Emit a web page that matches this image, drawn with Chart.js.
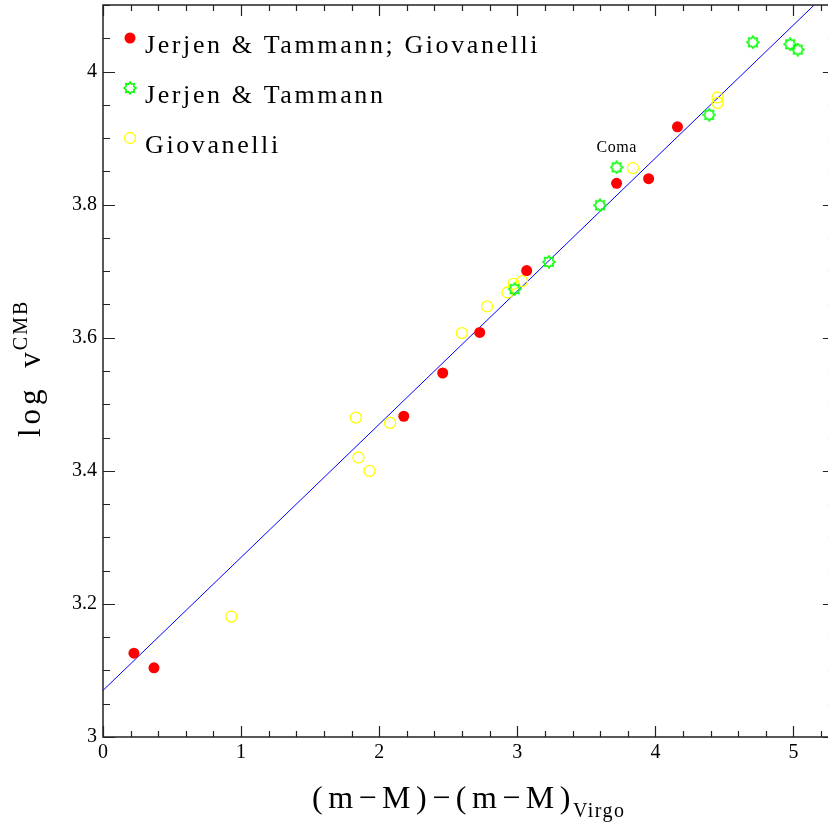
<!DOCTYPE html>
<html>
<head>
<meta charset="utf-8">
<script src="https://cdn.jsdelivr.net/npm/chart.js@4"></script>
<style>
  html, body { margin: 0; padding: 0; background: #fff; overflow: hidden; }
  canvas { display: block; }
</style>
</head>
<body>
<canvas id="c" width="828" height="824"></canvas>
<script>
// ---- data ----
const bothX   = [0.224, 0.369, 2.178, 2.460, 2.728, 3.068, 3.719, 3.951, 4.160];
const bothY   = [3.126, 3.104, 3.482, 3.547, 3.608, 3.701, 3.832, 3.839, 3.917];
const jtX     = [2.981, 3.229, 3.599, 3.719, 4.390, 4.706, 4.976, 5.031];
const jtY     = [3.673, 3.714, 3.799, 3.856, 3.935, 4.044, 4.041, 4.033];
const giovX   = [0.929, 1.831, 1.850, 1.930, 2.079, 2.598, 2.781, 2.929, 2.974, 3.034, 3.837, 4.450, 4.450];
const giovY   = [3.181, 3.480, 3.420, 3.400, 3.472, 3.607, 3.647, 3.668, 3.681, 3.685, 3.855, 3.961, 3.953];
const fitIntercept = 3.07;
const fitSlope     = 0.2;
const seriesNames  = ['Jerjen & Tammann; Giovanelli', 'Jerjen & Tammann', 'Giovanelli'];
const xRange = [0, 5.25];     // visible part of the x axis
const xFrameEdge = 5.3;       // right frame (just outside the picture)
const yRange = [3, 4.1];
const annotation = { text: 'Coma', x: 3.72, y: 3.886 };

const pts = (xs, ys) => xs.map((x, i) => ({ x, y: ys[i] }));

// star marker (green spiky outline)
function makeStar(size) {
  const cv = document.createElement('canvas');
  cv.width = size; cv.height = size;
  const g = cv.getContext('2d');
  const c = size / 2, ro = size / 2 - 1, ri = ro * 0.68, n = 8;
  g.beginPath();
  for (let k = 0; k < 2 * n; k++) {
    const r = k % 2 === 0 ? ro : ri;
    const a = -Math.PI / 2 + k * Math.PI / n;
    const px = c + r * Math.cos(a), py = c + r * Math.sin(a);
    if (k === 0) g.moveTo(px, py); else g.lineTo(px, py);
  }
  g.closePath();
  g.strokeStyle = '#00ff00';
  g.lineWidth = 1.5;
  g.stroke();
  return cv;
}
const starImg = makeStar(14);

const SERIF = '"Liberation Serif", "DejaVu Serif", serif';

const decor = {
  id: 'decor',
  afterDraw(chart) {
    const ctx = chart.ctx, a = chart.chartArea;
    const xs = chart.scales.x, ys = chart.scales.y;
    const right = xs.getPixelForValue(xFrameEdge);
    ctx.save();
    // frame
    ctx.strokeStyle = '#222';
    ctx.lineWidth = 1.5;
    ctx.strokeRect(a.left, a.top, right - a.left, a.bottom - a.top);
    // ticks
    ctx.lineWidth = 1.2;
    ctx.beginPath();
    for (let i = 0; i * 0.2 <= xFrameEdge + 1e-9; i++) {
      const v = i * 0.2, p = Math.round(xs.getPixelForValue(v)) + 0.5;
      const L = (i % 5 === 0) ? 11 : 6;
      ctx.moveTo(p, a.bottom); ctx.lineTo(p, a.bottom - L);
      ctx.moveTo(p, a.top); ctx.lineTo(p, a.top + L);
    }
    for (let i = 0; 3 + i * 0.05 <= yRange[1] + 1e-9; i++) {
      const v = 3 + i * 0.05, p = Math.round(ys.getPixelForValue(v)) + 0.5;
      const L = (i % 4 === 0) ? 12 : 7;
      ctx.moveTo(a.left, p); ctx.lineTo(a.left + L, p);
      ctx.moveTo(right, p); ctx.lineTo(right - L, p);
    }
    ctx.stroke();

    // legend
    ctx.textBaseline = 'alphabetic';
    ctx.textAlign = 'left';
    const lx = 130, tx = 145, rows = [38, 88, 138];
    ctx.beginPath(); ctx.arc(lx, rows[0], 5.5, 0, Math.PI * 2);
    ctx.fillStyle = '#ff0000'; ctx.fill();
    ctx.drawImage(starImg, lx - 7, rows[1] - 7);
    ctx.beginPath(); ctx.arc(lx, rows[2], 5.5, 0, Math.PI * 2);
    ctx.strokeStyle = '#ffff00'; ctx.lineWidth = 1.3; ctx.stroke();
    ctx.fillStyle = '#000';
    ctx.font = '26px ' + SERIF;
    ctx.letterSpacing = '2.6px';
    seriesNames.forEach((s, i) => ctx.fillText(s, tx, rows[i] + 15));

    // annotation
    ctx.letterSpacing = '0.5px';
    ctx.font = '16px ' + SERIF;
    ctx.textAlign = 'center';
    ctx.fillText(annotation.text, xs.getPixelForValue(annotation.x), ys.getPixelForValue(annotation.y) + 5);

    // x title
    ctx.textAlign = 'left';
    ctx.font = '32px ' + SERIF;
    ctx.letterSpacing = '5.5px';
    const main = '(m\u2212M)\u2212(m\u2212M)';
    const x0 = 312, by = 808;
    ctx.fillText(main, x0, by);
    const w = ctx.measureText(main).width;
    ctx.font = '20px ' + SERIF;
    ctx.letterSpacing = '1.5px';
    ctx.fillText('Virgo', x0 + w - 3, by + 9);

    // y title (rotated)
    ctx.save();
    ctx.translate(40, 437);
    ctx.rotate(-Math.PI / 2);
    ctx.font = '31px ' + SERIF;
    ctx.letterSpacing = '4px';
    ctx.fillText('log', 0, 0);
    const wl = ctx.measureText('log ').width;
    ctx.fillText('v', wl + 6, 0);
    const w1 = wl + 6 + ctx.measureText('v').width;
    ctx.font = '20px ' + SERIF;
    ctx.letterSpacing = '2px';
    ctx.fillText('CMB', w1 - 2, -13);
    ctx.restore();

    ctx.restore();
  }
};

new Chart(document.getElementById('c'), {
  type: 'scatter',
  data: {
    datasets: [
      { label: seriesNames[0], data: pts(bothX, bothY), pointStyle: 'circle', pointRadius: 5.5,
        backgroundColor: '#ff0000', borderColor: '#ff0000', borderWidth: 0, order: 1 },
      { label: seriesNames[1], data: pts(jtX, jtY), pointStyle: starImg, pointRadius: 7,
        backgroundColor: '#00ff00', borderColor: '#00ff00', order: 2 },
      { label: seriesNames[2], data: pts(giovX, giovY), pointStyle: 'circle', pointRadius: 5.5,
        backgroundColor: 'rgba(0,0,0,0)', borderColor: '#ffff00', borderWidth: 1.3, order: 3 },
      { label: 'fit', type: 'line', showLine: true, pointRadius: 0, borderColor: '#0000ff', borderWidth: 1,
        data: [{ x: xRange[0], y: fitIntercept + fitSlope * xRange[0] },
               { x: xRange[1], y: fitIntercept + fitSlope * xRange[1] }], order: 4 }
    ]
  },
  options: {
    responsive: false,
    animation: false,
    events: [],
    layout: { autoPadding: false, padding: { top: 5, right: 0, left: 0, bottom: 0 } },
    plugins: { legend: { display: false }, tooltip: { enabled: false } },
    scales: {
      x: {
        type: 'linear', min: xRange[0], max: xRange[1],
        grid: { display: false, drawTicks: false, tickLength: 0 }, border: { display: false },
        afterFit: s => { s.height = 87; s.paddingLeft = 0; s.paddingRight = 0; },
        ticks: { stepSize: 1, includeBounds: false, padding: 4, color: '#000',
                 font: { family: SERIF, size: 20 }, maxRotation: 0,
                 callback: v => String(v) }
      },
      y: {
        type: 'linear', min: yRange[0], max: yRange[1],
        grid: { display: false, drawTicks: false, tickLength: 0 }, border: { display: false },
        afterFit: s => { s.width = 103; s.paddingTop = 0; s.paddingBottom = 0; },
        ticks: { stepSize: 0.2, includeBounds: false, padding: 6, color: '#000',
                 font: { family: SERIF, size: 20 },
                 callback: v => String(Math.round(v * 10) / 10) }
      }
    }
  },
  plugins: [decor]
});
</script>
</body>
</html>
